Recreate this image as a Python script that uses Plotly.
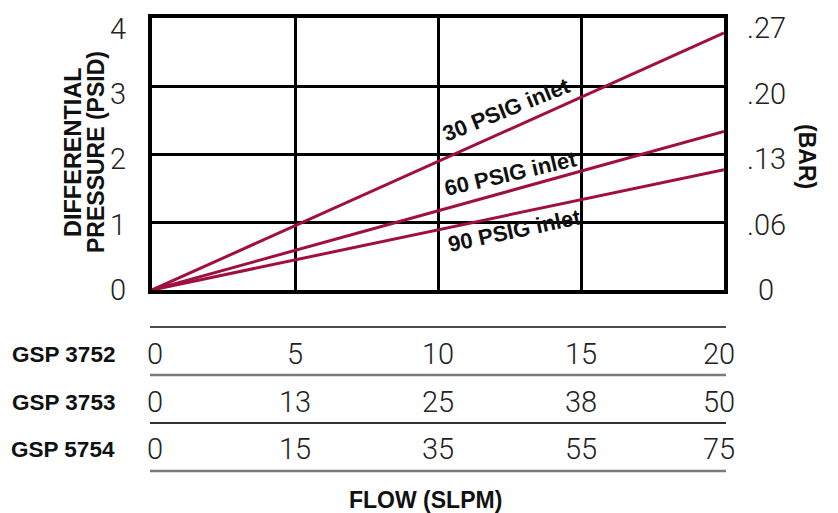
import plotly.graph_objects as go

# ---- data ----
flow_3752 = [0, 20]
dp_30 = [0, 3.78]
dp_60 = [0, 2.33]
dp_90 = [0, 1.77]
series_names = ["30 PSIG inlet", "60 PSIG inlet", "90 PSIG inlet"]

psid_ticks = [0, 1, 2, 3, 4]
psid_labels = ["0", "1", "2", "3", "4"]
bar_labels = ["0", ".06", ".13", ".20", ".27"]

flow_grid = [0, 5, 10, 15, 20]
models = ["GSP 3752", "GSP 3753", "GSP 5754"]
model_ticks = [
    ["0", "5", "10", "15", "20"],
    ["0", "13", "25", "38", "50"],
    ["0", "15", "35", "55", "75"],
]

# ---- style ----
LINE_COLOR = "#A0103F"
THIN = dict(family="Roboto", size=29, color="#222222", weight=300)
BOLD = dict(family="Liberation Sans, Arial", size=22, color="#111111", weight="bold")

fig = go.Figure()
for yv, name in zip([dp_30, dp_60, dp_90], series_names):
    fig.add_trace(go.Scatter(x=flow_3752, y=yv, mode="lines", name=name,
                             line=dict(color=LINE_COLOR, width=3), showlegend=False))

# dummy trace to activate overlay label axis
fig.add_trace(go.Scatter(x=[None], y=[None], yaxis="y3", showlegend=False))

ann = []
# series labels along lines
label_pos = [(12.40, 2.65, -22), (12.55, 1.72, -13), (12.69, 0.88, -12)]
for (lx, ly, ang), name in zip(label_pos, series_names):
    ann.append(dict(x=lx, y=ly, xref="x", yref="y", text=name, showarrow=False,
                    textangle=ang, font=dict(BOLD, size=22), xanchor="center", yanchor="middle"))

# right axis (BAR) labels
for v, t in zip(psid_ticks, bar_labels):
    ann.append(dict(x=1, y=v, xref="paper", yref="y3", text=t, showarrow=False,
                    xshift=42, font=THIN, xanchor="center", yanchor="middle"))

# axis titles
ann.append(dict(x=0, y=0.5, xref="paper", yref="paper", text="DIFFERENTIAL", showarrow=False,
                textangle=-90, xshift=-94, yshift=2, font=dict(BOLD, size=23.5)))
ann.append(dict(x=0, y=0.5, xref="paper", yref="paper", text="PRESSURE (PSID)", showarrow=False,
                textangle=-90, xshift=-71, yshift=2, font=dict(BOLD, size=23)))
ann.append(dict(x=1, y=0.5, xref="paper", yref="paper", text="(BAR)", showarrow=False,
                textangle=90, xshift=98, yshift=-2, font=dict(BOLD, size=23)))
ann.append(dict(x=0.5, y=0, xref="paper", yref="paper", text="FLOW (SLPM)", showarrow=False,
                xanchor="center", yanchor="middle",
                xshift=-13, yshift=-210, font=dict(BOLD, size=23)))

# flow table below the chart
row_shift = [-64, -112, -159]
for r, (m, ticks) in enumerate(zip(models, model_ticks)):
    ann.append(dict(x=0, y=0, xref="paper", yref="paper", text=m, showarrow=False,
                    xanchor="right", yanchor="middle", xshift=-35, yshift=row_shift[r],
                    font=dict(BOLD, size=22.5)))
    for i, (xv, t) in enumerate(zip(flow_grid, ticks)):
        xs = 3 if i == 0 else (-5 if i == len(flow_grid) - 1 else 0)
        ann.append(dict(x=xv, y=0, xref="x", yref="paper", text=t, showarrow=False,
                        xanchor="center", yanchor="middle", xshift=xs, yshift=row_shift[r], font=THIN))

shapes = []
rules = [(-37, "#111111", 1.5), (-85, "#7a7a7a", 2.5), (-133, "#333333", 2), (-181, "#7a7a7a", 2.5)]
for yp, col, w in rules:
    shapes.append(dict(type="line", xref="paper", yref="paper", x0=-0.0035, x1=1.0035,
                       ysizemode="pixel", yanchor=0, y0=yp, y1=yp, line=dict(color=col, width=w)))

fig.update_layout(
    width=830, height=505,
    margin=dict(l=144, r=114, t=4, b=223),
    plot_bgcolor="white", paper_bgcolor="white",
    annotations=ann, shapes=shapes,
    xaxis=dict(range=[0, 20], tickvals=flow_grid, showticklabels=False, ticks="",
               showgrid=True, gridcolor="black", gridwidth=3, zeroline=False,
               showline=True, linecolor="black", linewidth=3.5, mirror=True),
    yaxis=dict(range=[0, 4], tickvals=psid_ticks, showticklabels=False, ticks="",
               showgrid=True, gridcolor="black", gridwidth=3, zeroline=False,
               showline=True, linecolor="black", linewidth=3.5, mirror=True),
    yaxis3=dict(overlaying="y", side="left", range=[0, 4.16], tickvals=psid_ticks,
                ticktext=psid_labels, showgrid=False, zeroline=False, showline=False,
                ticks="", tickfont=THIN, ticklabelstandoff=25),
)

fig.write_html("out.html")
